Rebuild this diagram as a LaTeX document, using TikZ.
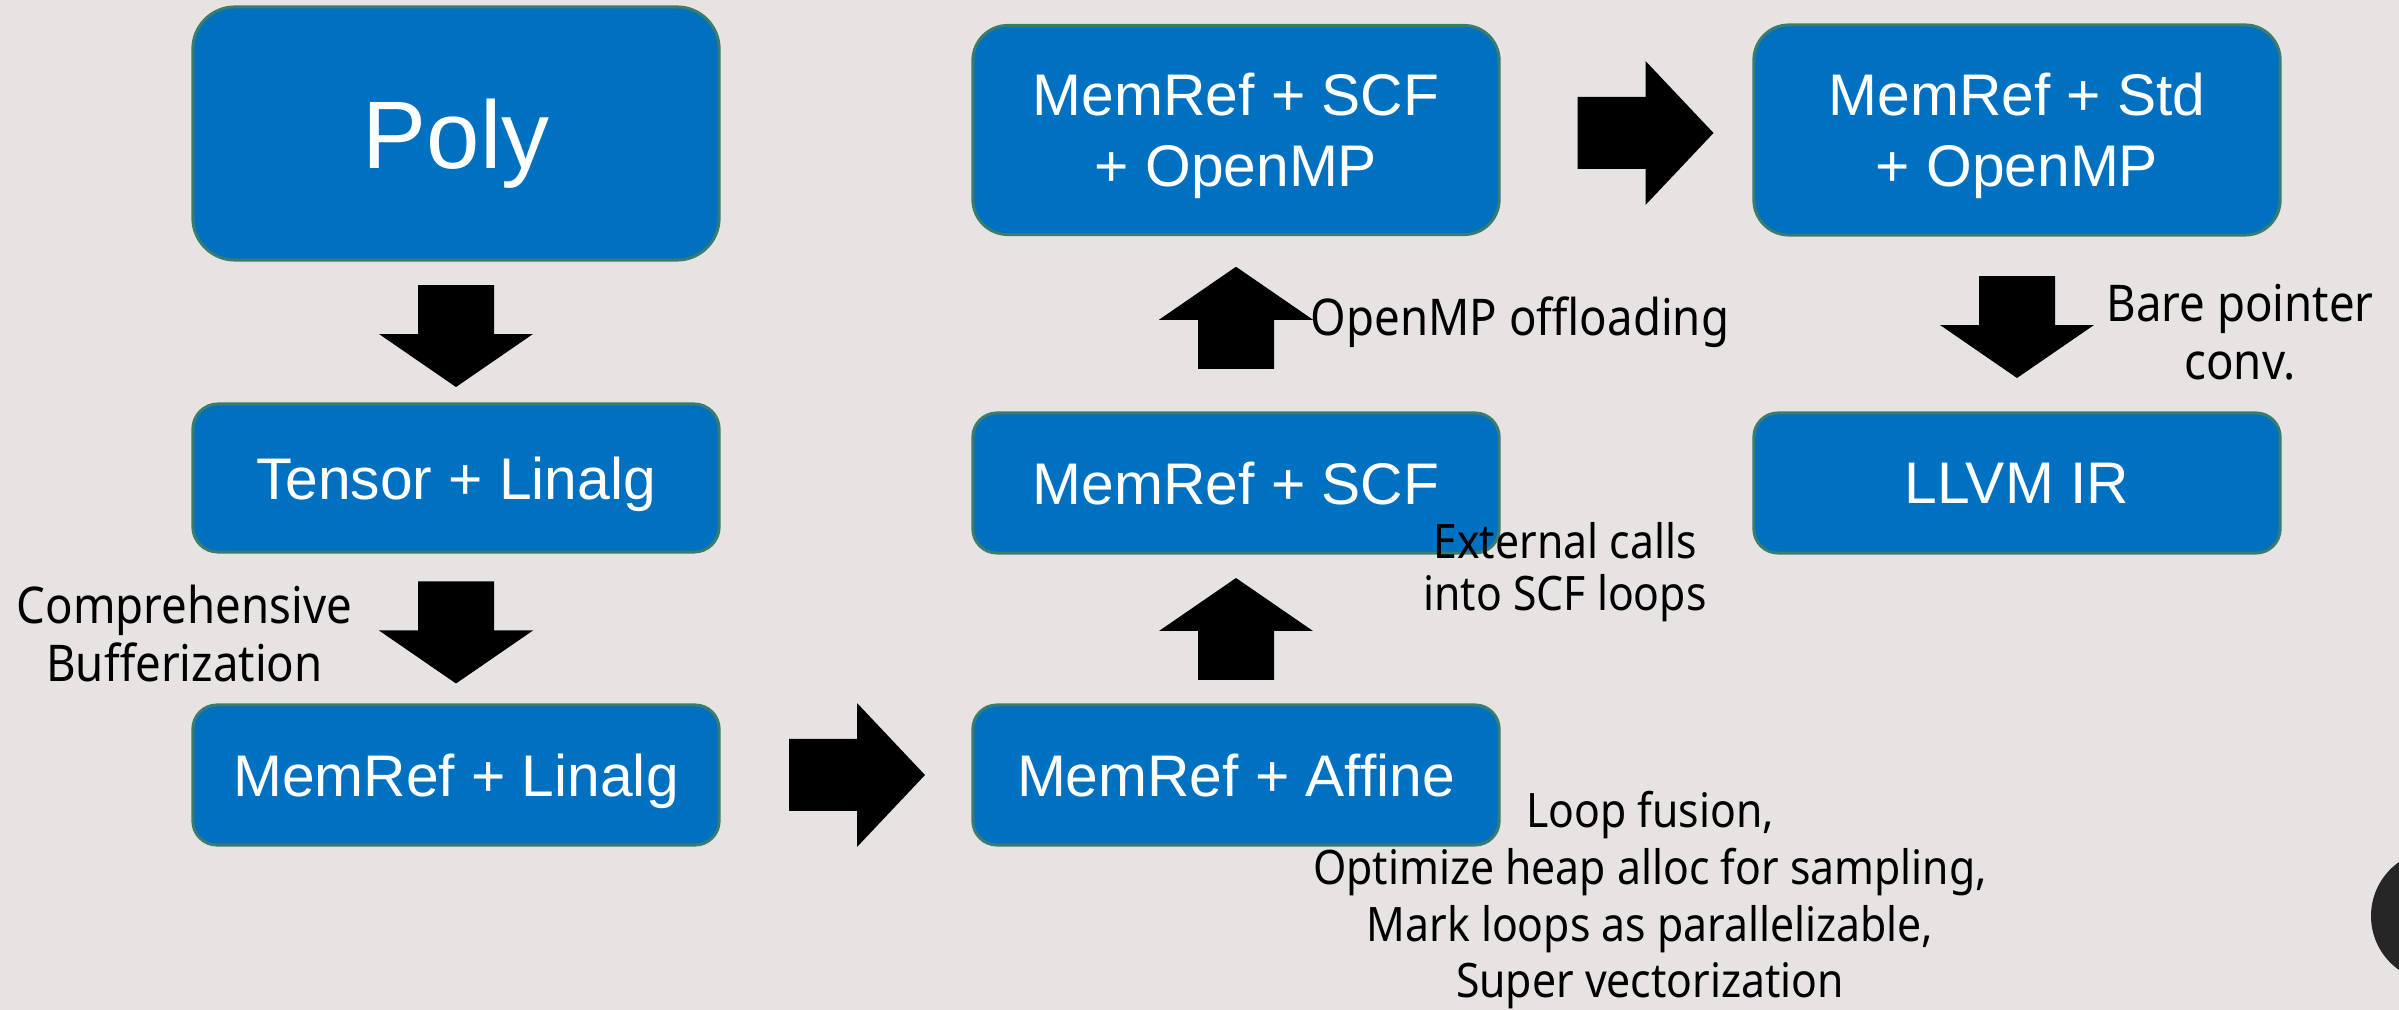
\documentclass[tikz,border=0pt]{standalone}
\usepackage{fontspec}
\setmainfont{Liberation Sans}
\newfontfamily\lblfont[FakeStretch=0.9]{Noto Sans}
\usetikzlibrary{calc}

\definecolor{bgcol}{RGB}{232,227,227}
\definecolor{boxfill}{RGB}{0,112,192}
\definecolor{boxline}{RGB}{58,125,110}
\definecolor{dotcol}{RGB}{38,38,38}

\tikzset{
  dialect/.style={draw=boxline, line width=0.85pt, fill=boxfill, text=white,
    minimum width=5.26cm, inner sep=0pt, align=center, text depth=0pt,
    font=\fontsize{16.7pt}{20.2pt}\selectfont},
  passnote/.style={text=black, inner sep=0pt, align=center, anchor=base,
    font=\lblfont\fontsize{14.4pt}{16.5pt}\selectfont},
  varrow/.pic={\fill[black] (-38,-51) -- (38,-51) -- (38,-2) -- (77,-2)
      -- (0,51) -- (-77,-2) -- (-38,-2) -- cycle;},
  harrow/.pic={\fill[black] (-68,-36) -- (0,-36) -- (0,-72) -- (68,0)
      -- (0,72) -- (0,36) -- (-68,36) -- cycle;},
}

\begin{document}
\begin{tikzpicture}[x=0.01cm, y=-0.01cm]
  % canvas
  \fill[bgcol] (0,0) rectangle (2399,1010);
  \useasboundingbox (0,0) rectangle (2399,1010);

  % dialect boxes
  \node[dialect, minimum height=2.53cm, rounded corners=0.42cm,
        font=\fontsize{27.3pt}{30pt}\selectfont] (poly) at (456,133.5) {Poly};
  \node[dialect, minimum height=1.48cm, rounded corners=0.25cm] (tensor) at (456,478) {Tensor + Linalg};
  \node[dialect, minimum height=1.40cm, rounded corners=0.24cm] (mrlin) at (456,775) {MemRef + Linalg};
  \node[dialect, minimum height=1.40cm, rounded corners=0.24cm] (affine) at (1236,775) {MemRef + Affine};
  \node[dialect, minimum height=1.40cm, rounded corners=0.24cm] (scf) at (1236,483) {MemRef + SCF};
  \node[dialect, minimum height=2.09cm, rounded corners=0.35cm] (scfomp) at (1236,130) {MemRef + SCF\\+ OpenMP};
  \node[dialect, minimum height=2.10cm, rounded corners=0.35cm] (stdomp) at (2017,130) {MemRef + Std\\+ OpenMP};
  \node[dialect, minimum height=1.40cm, rounded corners=0.24cm] (llvm) at (2017,483) {LLVM IR};

  % block arrows between the stages
  \pic at ($(poly.south)!0.5!(tensor.north)+(0,4)$) {varrow};
  \pic at ($(tensor.south)!0.5!(mrlin.north)+(0,4)$) {varrow};
  \pic at ($(mrlin.east)!0.5!(affine.west)+(11,0)$) {harrow};
  \pic[rotate=180] at ($(affine.north)!0.5!(scf.south)$) {varrow};
  \pic[rotate=180] at ($(scf.north)!0.5!(scfomp.south)+(0,-6)$) {varrow};
  \pic at ($(scfomp.east)!0.5!(stdomp.west)+(19,3)$) {harrow};
  \pic at ($(stdomp.south)!0.5!(llvm.north)+(0,3)$) {varrow};

  % pass annotations (anchored at the baseline of their last line)
  \node[passnote] (bufnote) at (184.5,682) {Comprehensive\\Bufferization};
  \node[passnote] (ompnote) at (1520,336) {OpenMP offloading};
  \node[passnote, font=\lblfont\fontsize{13.5pt}{14.8pt}\selectfont] (extnote) at (1565,611) {External calls\\into SCF loops};
  \node[passnote] (barenote) at (2240,380) {Bare pointer\\conv.};
  \node[passnote, font=\lblfont\fontsize{13.5pt}{16.2pt}\selectfont] (affnote) at (1650,998) {Loop fusion,\\Optimize heap alloc for sampling,\\Mark loops as parallelizable,\\Super vectorization};

  % dark disc at the right edge
  \fill[dotcol] (2437,916) circle[radius=66];
\end{tikzpicture}
\end{document}
